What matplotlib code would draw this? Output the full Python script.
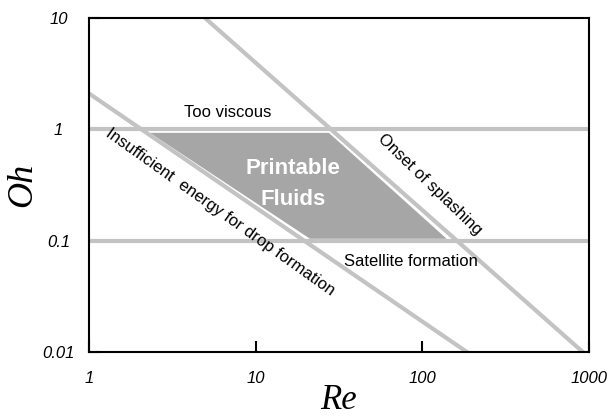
import matplotlib
matplotlib.use('Agg')
import matplotlib.pyplot as plt

# boundary lines (Re, Oh)
re_low = [1, 185]
oh_low = [2.1, 0.01]
re_splash = [4.97, 918]
oh_splash = [10, 0.01]
oh_bounds = [1, 0.1]

# printable region (slightly inside the lines)
region_re = [2.32, 27.5, 140, 21.2]
region_oh = [0.93, 0.93, 0.104, 0.104]

x_ticks = [1, 10, 100, 1000]
x_labels = ['1', '10', '100', '1000']
y_ticks = [0.01, 0.1, 1, 10]
y_labels = ['0.01', '0.1', '1', '10']

plt.rcParams['font.family'] = ['Liberation Sans', 'DejaVu Sans']

fig = plt.figure(figsize=(6.07, 4.17), dpi=100)
ax = fig.add_axes([0.1466, 0.1559, 0.8237, 0.8009])
ax.set_xscale('log')
ax.set_yscale('log')
ax.set_xlim(1, 1000)
ax.set_ylim(0.01, 10)

line_col = '#c3c3c3'
ax.fill(region_re, region_oh, color='#a6a6a6', lw=0, zorder=1)
for oh in oh_bounds:
    ax.axhline(oh, color=line_col, lw=3, zorder=2)
ax.plot(re_low, oh_low, color=line_col, lw=3, zorder=2)
ax.plot(re_splash, oh_splash, color=line_col, lw=3, zorder=2)

for s in ax.spines.values():
    s.set_linewidth(1.5)

ax.set_xticks(x_ticks)
ax.set_xticklabels(x_labels, style='italic', fontsize=12)
ax.set_yticks(y_ticks)
ax.set_yticklabels(y_labels, style='italic', fontsize=12)
for lab in ax.get_yticklabels():
    lab.set_ha('center')
ax.minorticks_off()
ax.tick_params(direction='in', length=8, width=1.5)
ax.tick_params(axis='x', pad=14)
ax.tick_params(axis='y', pad=22)

ax.set_xlabel('Re', family='Liberation Serif', style='italic', fontsize=25, labelpad=-2)
ax.set_ylabel('Oh', family='Liberation Serif', style='italic', fontsize=26, labelpad=2)

ax.text(6.82, 1.41, 'Too viscous', fontsize=12, ha='center', va='center')
ax.text(85, 0.0646, 'Satellite formation', fontsize=12, ha='center', va='center')
ax.text(111, 0.32, 'Onset of splashing', fontsize=12, ha='center', va='center',
        rotation=-44, rotation_mode='anchor')
ax.text(6.1, 0.182, 'Insufficient  energy for drop formation', fontsize=12,
        ha='center', va='center', rotation=-35.4, rotation_mode='anchor')
ax.text(16.7, 0.324, 'Printable\nFluids', fontsize=16, fontweight='bold', color='white',
        ha='center', va='center', linespacing=1.65)

fig.savefig('out.png', dpi=100)
